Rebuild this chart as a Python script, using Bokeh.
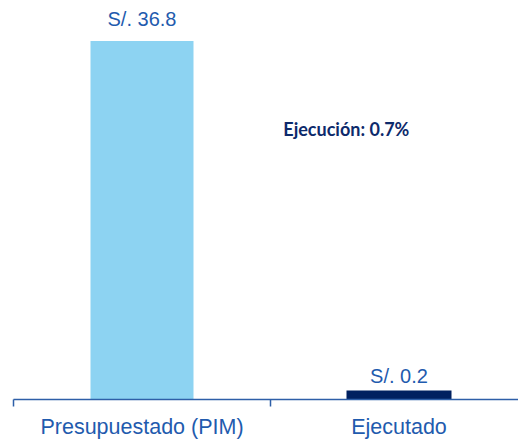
from bokeh.plotting import figure
from bokeh.models import ColumnDataSource, FixedTicker, Range1d
from bokeh.core.properties import value
from bokeh.embed import file_html
from bokeh.resources import INLINE

categories = ["Presupuestado (PIM)", "Ejecutado"]
amounts = [36.8, 0.2]
labels = ["S/. 36.8", "S/. 0.2"]
bar_colors = ["#8DD3F2", "#002060"]
ejec_text = "Ejecución: 0.7%"

xs = [i + 0.5 for i in range(len(categories))]

p = figure(width=518, height=441, output_backend="svg", toolbar_location=None,
           x_range=Range1d(0, 505 / 257), y_range=Range1d(0, 40.95),
           min_border_left=13, min_border_right=0, min_border_top=0, min_border_bottom=0)
p.outline_line_color = None
p.xgrid.visible = False
p.ygrid.visible = False
p.yaxis.visible = False
p.background_fill_color = "white"
p.border_fill_color = "white"

src1 = ColumnDataSource(dict(x=[xs[0]], top=[amounts[0]], c=[bar_colors[0]]))
p.vbar(x="x", top="top", bottom=0, width=103 / 257, fill_color="c", line_color=None, source=src1)
src2 = ColumnDataSource(dict(x=[xs[1]], top=[amounts[1]], c=[bar_colors[1]]))
p.vbar(x="x", top="top", bottom=0, width=91 / 257, fill_color="c", line_color="c",
       line_width=14, line_join="miter", source=src2)

lab_src = ColumnDataSource(dict(x=xs, y=amounts, t=labels))
p.text(x="x", y="y", text="t", source=lab_src, text_align="center", text_baseline="bottom",
       y_offset=-11, text_font=value("Liberation Sans"), text_font_size="20px",
       text_color="#1F5BAE")

p.text(x=[1.05], y=[27.8], text=[ejec_text], text_align="left", text_baseline="middle",
       text_font=value("Lato"), text_font_style="bold", text_font_size="18px",
       text_color="#0D2A6B")

ax = p.xaxis[0]
ax.ticker = FixedTicker(ticks=xs, minor_ticks=[0, 1, 2])
ax.major_label_overrides = {xs[i]: categories[i] for i in range(len(categories))}
ax.major_tick_out = 0
ax.major_tick_in = 0
ax.minor_tick_out = 7
ax.minor_tick_in = 0
ax.minor_tick_line_color = "#2E5FA8"
ax.axis_line_color = "#2E5FA8"
ax.axis_line_width = 1.5
ax.minor_tick_line_width = 1.5
ax.major_label_text_font = "Liberation Sans"
ax.major_label_text_font_size = "21.5px"
ax.major_label_text_color = "#1F5BAE"
ax.major_label_standoff = 8

open("out.html", "w").write(file_html(p, INLINE))
